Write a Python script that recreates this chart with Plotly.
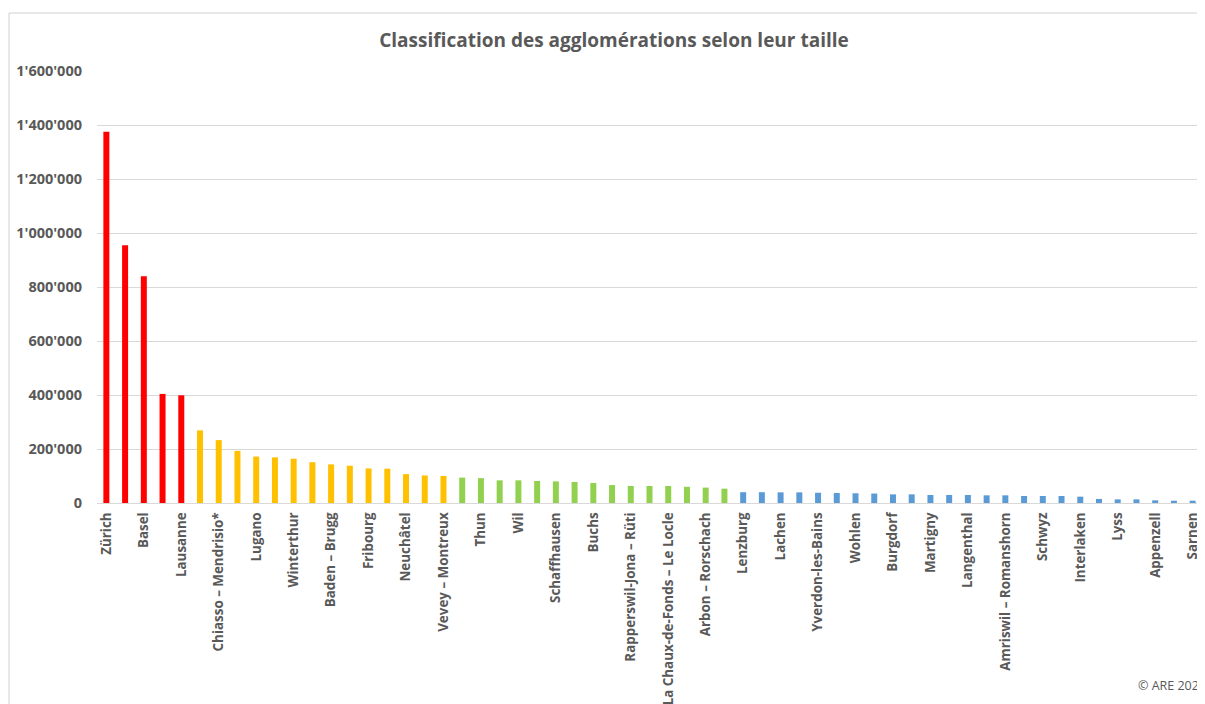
import plotly.graph_objects as go

categories = [
    "Zürich", "Genève", "Basel", "Bern", "Lausanne",
    "Luzern", "Chiasso – Mendrisio*", "St. Gallen", "Lugano", "Aarau",
    "Winterthur", "Olten – Zofingen", "Baden – Brugg", "Zug", "Fribourg",
    "Biel/Bienne", "Neuchâtel", "Wetzikon – Pfäffikon", "Vevey – Montreux", "Solothurn",
    "Thun", "Bellinzona", "Wil", "Sion", "Schaffhausen",
    "Locarno", "Buchs", "Kreuzlingen", "Rapperswil-Jona – Rüti", "Heerbrugg – Altstätten",
    "La Chaux-de-Fonds – Le Locle", "Frauenfeld", "Arbon – Rorschach", "Chur", "Lenzburg",
    "Brig – Visp", "Lachen", "Grenchen", "Yverdon-les-Bains", "Bulle",
    "Wohlen", "Monthey", "Burgdorf", "Stans", "Martigny",
    "Delémont", "Langenthal", "Sierre", "Amriswil – Romanshorn", "Weinfelden",
    "Schwyz", "Davos", "Interlaken", "Altdorf", "Lyss",
    "St. Moritz", "Appenzell", "Glarus", "Sarnen",
]

population = [
    1375000, 955000, 840000, 404000, 399000,
    269000, 233000, 193000, 172000, 169000,
    164000, 151000, 143000, 138000, 128000,
    127000, 107000, 102000, 100000, 94000,
    92000, 84000, 84000, 81500, 80000,
    78000, 74000, 66500, 63000, 63000,
    63000, 60000, 57000, 53000, 40000,
    40000, 39500, 39500, 38000, 37000,
    36000, 35000, 32000, 32000, 29600,
    29600, 29600, 28400, 28400, 26000,
    26000, 26000, 23500, 15000, 13500,
    13500, 10000, 8500, 8500,
]

# size class of each agglomeration (drives colour)
size_class = ["large"] * 5 + ["medium"] * 14 + ["small"] * 15 + ["very small"] * 25
class_colors = {"large": "#FF0000", "medium": "#FFC000", "small": "#92D050", "very small": "#5B9BD5"}

y_ticks = [0, 200000, 400000, 600000, 800000, 1000000, 1200000, 1400000, 1600000]

title_text = "Classification des agglomérations selon leur taille"
credit_text = "© ARE 2023"

# page body offset (browser default margin)
OFF = 8
W, H = 1205 - OFF, 704 - OFF
# plot area in screen pixels: x 97..1202, y 71..503
ML = 97 - OFF
MR = W - (1202 - OFF)
MT = 71 - OFF
MB = H - (503 - OFF)

fig = go.Figure(
    go.Bar(
        x=categories,
        y=population,
        marker=dict(color=[class_colors[c] for c in size_class], line=dict(width=0)),
        hoverinfo="x+y",
    )
)

gray = "#595959"
grid = "#D9D9D9"

fig.update_layout(
    width=W,
    height=H,
    margin=dict(l=ML, r=MR, t=MT, b=MB),
    paper_bgcolor="white",
    plot_bgcolor="white",
    separators=".'",
    bargap=0.68,
    showlegend=False,
    title=dict(
        text=title_text,
        x=(614 - OFF) / W, xref="container", xanchor="center",
        y=1 - (40 - OFF) / H, yref="container", yanchor="middle",
        font=dict(family="Open Sans", size=19, color=gray, weight="bold"),
    ),
    font=dict(family="Open Sans", color=gray),
)

fig.update_xaxes(
    type="category",
    tickmode="array",
    tickvals=categories[::2],
    ticktext=categories[::2],
    tickangle=-90,
    tickfont=dict(family="Open Sans", size=13.4, color=gray, weight="bold"),
    showline=True,
    linecolor=grid,
    linewidth=1,
    ticks="",
    showgrid=False,
    ticklabelstandoff=3,
    automargin=False,
)

fig.update_yaxes(
    range=[0, 1600000],
    tickmode="array",
    tickvals=y_ticks,
    tickformat=",d",
    tickfont=dict(family="Open Sans", size=14.5, color=gray, weight="bold"),
    showgrid=True,
    gridcolor=grid,
    gridwidth=1,
    zeroline=False,
    showline=False,
    ticks="",
    ticklabelstandoff=14,
    automargin=False,
)

pw = W - ML - MR
ph = H - MT - MB
def px_to_paper_x(px):
    return (px - OFF - ML) / pw
def px_to_paper_y(py):
    return (H - MB - (py - OFF)) / ph

# outer chart frame (top and left edges visible)
fig.add_shape(type="line", xref="paper", yref="paper",
              x0=px_to_paper_x(9), x1=px_to_paper_x(1210),
              y0=px_to_paper_y(13), y1=px_to_paper_y(13),
              line=dict(color="#D0D0D0", width=1))
fig.add_shape(type="line", xref="paper", yref="paper",
              x0=px_to_paper_x(9), x1=px_to_paper_x(9),
              y0=px_to_paper_y(13), y1=px_to_paper_y(710),
              line=dict(color="#D0D0D0", width=1))

fig.add_annotation(
    text=credit_text,
    xref="paper", yref="paper",
    x=px_to_paper_x(1136), y=px_to_paper_y(685),
    xanchor="left", yanchor="middle",
    showarrow=False,
    font=dict(family="Open Sans", size=12.5, color=gray),
)

fig.write_html("out.html")
